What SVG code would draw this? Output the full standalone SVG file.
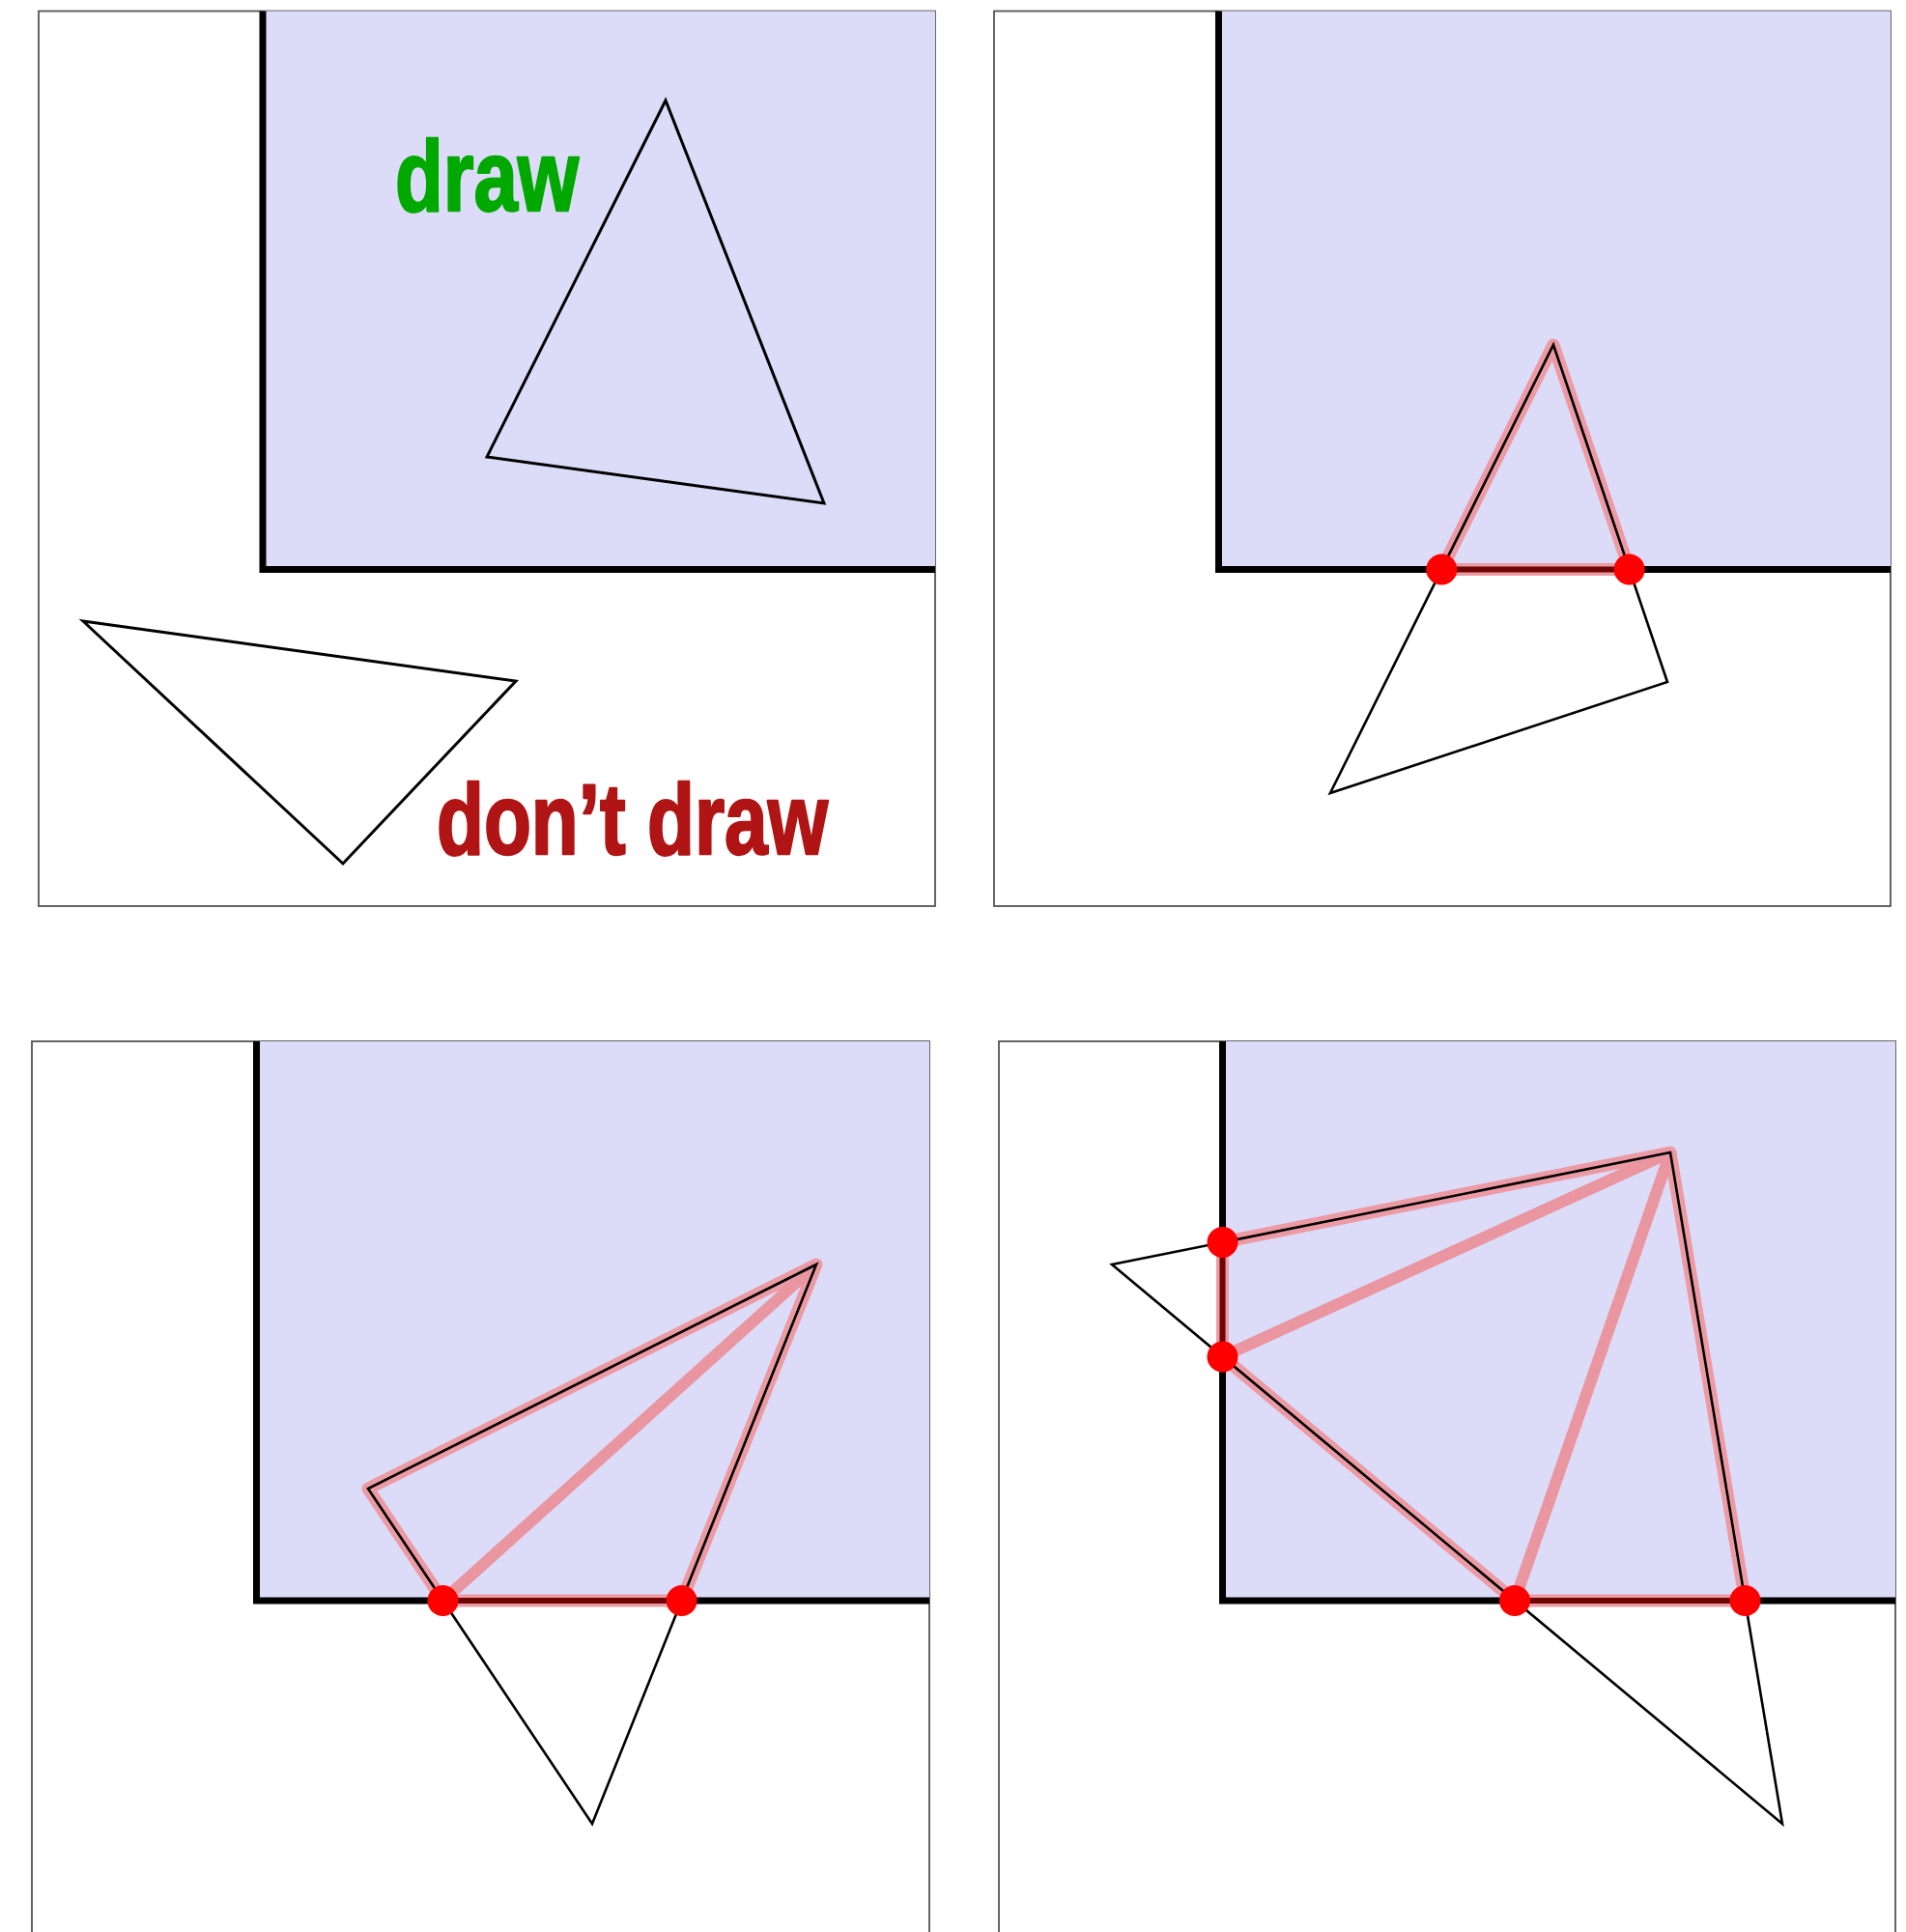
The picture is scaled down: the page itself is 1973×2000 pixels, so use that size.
<svg xmlns="http://www.w3.org/2000/svg" width="1973" height="2000" viewBox="0 0 1973 2000">
<style>
.frame{fill:#ffffff;stroke:#555;stroke-width:1.8}
.screen{fill:#dcdcf9;stroke:none}
.edge{fill:none;stroke:#000;stroke-width:7;stroke-linecap:butt;stroke-linejoin:miter}
.tri{fill:none;stroke:#000;stroke-width:2.6;stroke-linejoin:miter}
.tri1{fill:none;stroke:#000;stroke-width:3;stroke-linejoin:miter}
.halo{fill:none;stroke:#ec9aa4;stroke-width:13;stroke-linejoin:round}
.diag{fill:none;stroke:#e996a0;stroke-width:12;stroke-linecap:butt}
.clipseg{fill:none;stroke:#6e0505;stroke-width:6}
.dot{fill:#ff0000}
.lbl{font-family:"Liberation Sans",Arial,sans-serif;font-weight:bold;font-size:104px;stroke-width:2.5;stroke-linejoin:round}
</style>
<rect width="1973" height="2000" fill="#ffffff"/>

<g id="panel1">
  <rect class="frame" x="40" y="11.5" width="928" height="926.5"/>
  <rect class="screen" x="272" y="11.5" width="696" height="578"/>
  <polyline class="edge" points="272,11.5 272,589.5 968,589.5"/>
  <polygon class="tri1" points="689,104 504,473 853,521"/>
  <polygon class="tri1" points="86,643 534,705 355,894"/>
  <text class="lbl" x="409" y="218" fill="#00a800" stroke="#00a800" textLength="190" lengthAdjust="spacingAndGlyphs">draw</text>
  <text class="lbl" x="452" y="884" fill="#b01414" stroke="#b01414" textLength="405" lengthAdjust="spacingAndGlyphs">don’t draw</text>
</g>

<g id="panel2">
  <rect class="frame" x="1029" y="11.5" width="928" height="926.5"/>
  <rect class="screen" x="1261.5" y="11.5" width="695.5" height="578"/>
  <polyline class="edge" points="1261.5,11.5 1261.5,589.5 1957,589.5"/>
  <polygon class="halo" points="1608,357 1492.3,589.5 1686.6,589.5"/>
  <polygon class="tri" points="1608,357 1726,706 1377,821"/>
  <line class="clipseg" x1="1492.3" y1="589.5" x2="1686.6" y2="589.5"/>
  <circle class="dot" cx="1492.3" cy="589.5" r="16"/>
  <circle class="dot" cx="1686.6" cy="589.5" r="16"/>
</g>

<g id="panel3">
  <rect class="frame" x="33" y="1078" width="929" height="940"/>
  <rect class="screen" x="265.5" y="1078" width="696.5" height="579"/>
  <polyline class="edge" points="265.5,1078 265.5,1657 962,1657"/>
  <polygon class="halo" points="845,1309 381,1541 458.5,1657 705.6,1657"/>
  <line class="diag" x1="458.5" y1="1657" x2="845" y2="1309"/>
  <polygon class="tri" points="845,1309 381,1541 613,1888"/>
  <line class="clipseg" x1="458.5" y1="1657" x2="705.6" y2="1657"/>
  <circle class="dot" cx="458.5" cy="1657" r="16"/>
  <circle class="dot" cx="705.6" cy="1657" r="16"/>
</g>

<g id="panel4">
  <rect class="frame" x="1034" y="1078" width="928" height="940"/>
  <rect class="screen" x="1265.5" y="1078" width="696.5" height="579"/>
  <polyline class="edge" points="1265.5,1078 1265.5,1657 1962,1657"/>
  <polygon class="halo" points="1729,1193 1265.5,1286 1265.5,1404.5 1568,1657 1806.5,1657"/>
  <line class="diag" x1="1729" y1="1193" x2="1265.5" y2="1404.5"/>
  <line class="diag" x1="1729" y1="1193" x2="1568" y2="1657"/>
  <polygon class="tri" points="1729,1193 1151,1309 1845,1888"/>
  <line class="clipseg" x1="1265.5" y1="1286" x2="1265.5" y2="1404.5"/>
  <line class="clipseg" x1="1568" y1="1657" x2="1806.5" y2="1657"/>
  <circle class="dot" cx="1265.5" cy="1286" r="16"/>
  <circle class="dot" cx="1265.5" cy="1404.5" r="16"/>
  <circle class="dot" cx="1568" cy="1657" r="16"/>
  <circle class="dot" cx="1806.5" cy="1657" r="16"/>
</g>

<g id="connectors"></g>
</svg>
